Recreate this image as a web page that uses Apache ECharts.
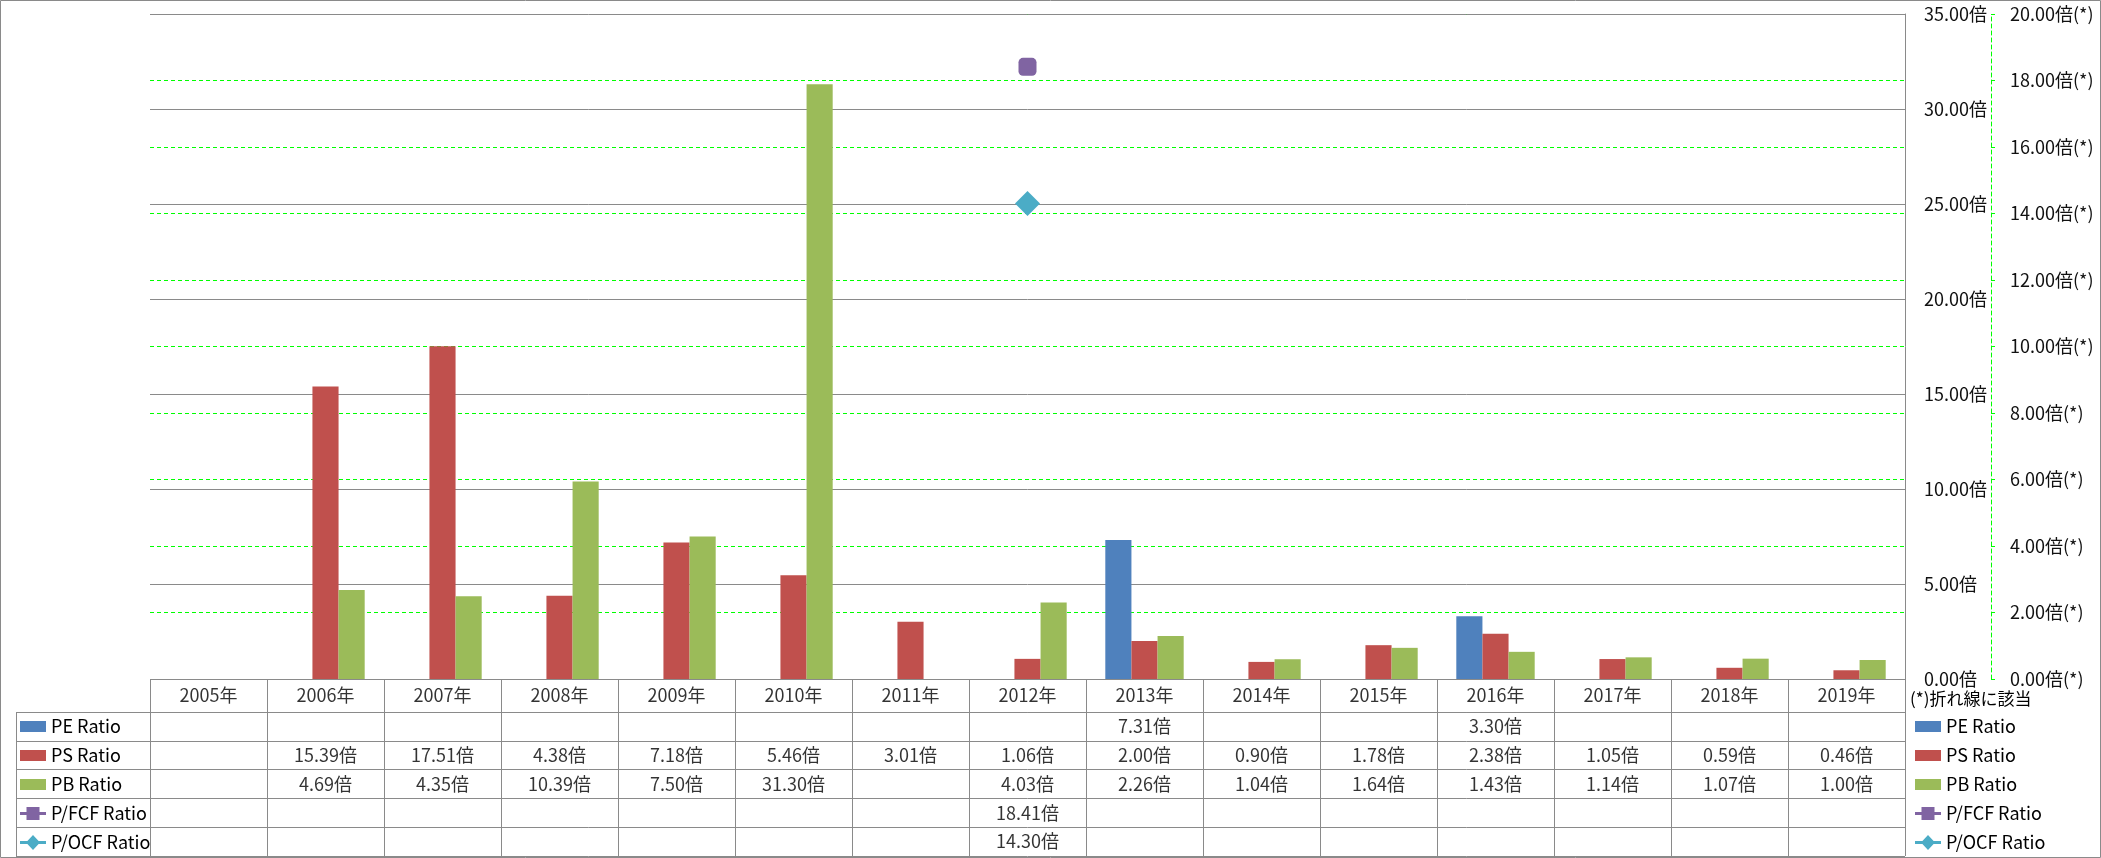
<!DOCTYPE html>
<html>
<head>
<meta charset="utf-8">
<script src="https://cdn.jsdelivr.net/npm/echarts@6/dist/echarts.min.js"></script>
<style>
html,body{margin:0;padding:0;background:#fff}
#c{width:2101px;height:858px}
</style>
</head>
<body>
<div id="c"></div>
<script>
// ---- data ----
const years = ['2005年','2006年','2007年','2008年','2009年','2010年','2011年','2012年','2013年','2014年','2015年','2016年','2017年','2018年','2019年'];
const peRatio  = [null,null,null,null,null,null,null,null,7.31,null,null,3.30,null,null,null];
const psRatio  = [null,15.39,17.51,4.38,7.18,5.46,3.01,1.06,2.00,0.90,1.78,2.38,1.05,0.59,0.46];
const pbRatio  = [null,4.69,4.35,10.39,7.50,31.30,null,4.03,2.26,1.04,1.64,1.43,1.14,1.07,1.00];
const pfcfRatio = [null,null,null,null,null,null,null,18.41,null,null,null,null,null,null,null];
const pocfRatio = [null,null,null,null,null,null,null,14.30,null,null,null,null,null,null,null];
const seriesNames = ['PE Ratio','PS Ratio','PB Ratio','P/FCF Ratio','P/OCF Ratio'];
const primaryAxis = {min: 0, max: 35, interval: 5, suffix: '倍'};
const secondaryAxis = {min: 0, max: 20, interval: 2, suffix: '倍(*)'};
const noteText = '(*)折れ線に該当';

// ---- styles ----
const FONT = '"Noto Sans CJK JP", "Noto Sans", sans-serif';
const colors = ['#4F81BD','#C0504D','#9BBB59','#8064A2','#4BACC6'];
const GRAY = '#8a8a8a';
const GREEN = '#00ff00';
const FS = 18;

const rows = [peRatio, psRatio, pbRatio, pfcfRatio, pocfRatio];
const legendIcons = [
  'path://M0,0h26v11h-26z',
  'path://M0,0h26v11h-26z',
  'path://M0,0h26v11h-26z',
  'path://M0,6.5h26v3h-26z M6.5,1.5h13v13h-13z',
  'path://M0,6.5h26v3h-26z M13,0.5l7,7.5l-7,7.5l-7,-7.5z'
];

function makeLegend(left) {
  return {
    orient: 'vertical', left: left, top: 712, padding: 0, itemGap: 0,
    itemWidth: 26, itemHeight: 16, selectedMode: false,
    itemStyle: {borderWidth: 0},
    textStyle: {fontSize: FS, color: '#000', fontFamily: FONT, lineHeight: 29},
    data: seriesNames.map((n, i) => ({name: n, icon: legendIcons[i]}))
  };
}

const hiddenCat = (gridIndex, data, extra) => Object.assign({
  type: 'category', gridIndex: gridIndex, data: data,
  axisLine: {show: false}, axisTick: {show: false}, axisLabel: {show: false},
  splitLine: {show: true, lineStyle: {color: GRAY, width: 1}}
}, extra || {});

const headerCells = years.map((y, i) => ({value: [i, 0], name: y}));
const bodyCells = [];
rows.forEach((arr, r) => arr.forEach((v, i) => {
  if (v !== null) bodyCells.push({value: [i, r], name: v.toFixed(2) + '倍'});
}));

const cellLabel = {show: true, position: 'inside', formatter: '{b}', color: '#000', fontSize: FS, fontFamily: FONT};

const option = {
  animation: false,
  textStyle: {fontFamily: FONT},
  title: {text: noteText, left: 1910, top: 690, padding: 0,
    textStyle: {fontSize: 17, fontWeight: 'normal', color: '#000', fontFamily: FONT}},
  legend: [makeLegend(20), makeLegend(1915)],
  graphic: [{type: 'rect', silent: true, shape: {x: 0.5, y: 0.5, width: 2100, height: 857},
    style: {fill: 'none', stroke: GRAY, lineWidth: 1}}],
  grid: [
    {left: 150, right: 196, top: 14, height: 665},
    {left: 150, right: 196, top: 679, height: 33},
    {left: 150, right: 196, top: 712, height: 144},
    {left: 16, width: 134, top: 712, height: 144}
  ],
  xAxis: [
    {type: 'category', gridIndex: 0, data: years, axisLine: {show: false}, axisTick: {show: false}, axisLabel: {show: false}},
    hiddenCat(1, years),
    hiddenCat(2, years),
    hiddenCat(3, [''])
  ],
  yAxis: [
    {type: 'value', gridIndex: 0, position: 'right', z: 1, min: primaryAxis.min, max: primaryAxis.max, interval: primaryAxis.interval,
      axisLine: {show: true, lineStyle: {color: GRAY}}, axisTick: {show: false},
      axisLabel: {margin: 19, fontSize: FS, color: '#111', fontFamily: FONT, formatter: v => v.toFixed(2) + primaryAxis.suffix},
      splitLine: {show: true, lineStyle: {color: GRAY, width: 1}}},
    {type: 'value', gridIndex: 0, position: 'right', z: 0, offset: 86, min: secondaryAxis.min, max: secondaryAxis.max, interval: secondaryAxis.interval,
      axisLine: {show: true, lineStyle: {color: GREEN, type: [4, 3]}},
      axisTick: {show: true, length: 4, lineStyle: {color: GREEN}},
      axisLabel: {margin: 19, fontSize: FS, color: '#111', fontFamily: FONT, formatter: v => v.toFixed(2) + secondaryAxis.suffix},
      splitLine: {show: true, lineStyle: {color: GREEN, width: 1, type: [4, 3]}}},
    hiddenCat(1, [''], {z: 1}),
    hiddenCat(2, seriesNames, {inverse: true}),
    hiddenCat(3, seriesNames, {inverse: true})
  ],
  series: [
    {type: 'bar', name: seriesNames[0], data: peRatio, xAxisIndex: 0, yAxisIndex: 0, barGap: '0%', barCategoryGap: '33%', itemStyle: {color: colors[0]}},
    {type: 'bar', name: seriesNames[1], data: psRatio, xAxisIndex: 0, yAxisIndex: 0, barGap: '0%', barCategoryGap: '33%', itemStyle: {color: colors[1]}},
    {type: 'bar', name: seriesNames[2], data: pbRatio, xAxisIndex: 0, yAxisIndex: 0, barGap: '0%', barCategoryGap: '33%', itemStyle: {color: colors[2]}},
    {type: 'line', name: seriesNames[3], data: pfcfRatio, xAxisIndex: 0, yAxisIndex: 1, symbol: 'roundRect', symbolSize: 18, showSymbol: true,
      itemStyle: {color: colors[3]}, lineStyle: {color: colors[3], width: 3}},
    {type: 'line', name: seriesNames[4], data: pocfRatio, xAxisIndex: 0, yAxisIndex: 1, symbol: 'diamond', symbolSize: 25, showSymbol: true,
      itemStyle: {color: colors[4]}, lineStyle: {color: colors[4], width: 3}},
    {type: 'scatter', xAxisIndex: 1, yAxisIndex: 2, data: headerCells, symbolSize: 1, silent: true,
      itemStyle: {color: 'rgba(0,0,0,0)'}, label: cellLabel},
    {type: 'scatter', xAxisIndex: 2, yAxisIndex: 3, data: bodyCells, symbolSize: 1, silent: true,
      itemStyle: {color: 'rgba(0,0,0,0)'}, label: cellLabel}
  ]
};

const chart = echarts.init(document.getElementById('c'));
chart.setOption(option);
</script>
</body>
</html>
